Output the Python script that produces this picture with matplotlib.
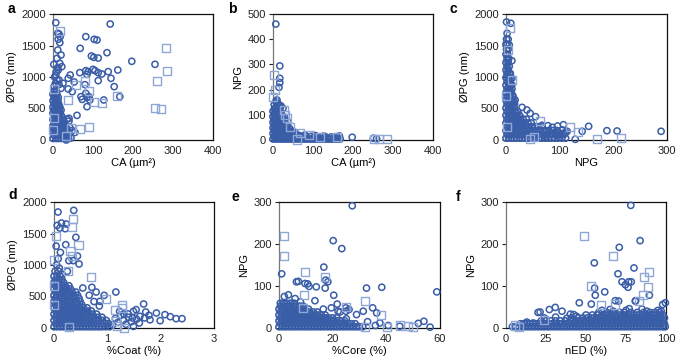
import matplotlib.pyplot as plt
import numpy as np

plt.rcParams['font.family'] = ['Liberation Sans', 'DejaVu Sans']
plt.rcParams['font.size'] = 8

CIRC = '#3a5da8'
SQ = '#8ea7d6'

# panel a: CA (um2) vs diameter PG (nm)
a_circles = [(7, 1862), (143, 1841), (82, 1640), (103, 1598), (110, 1587), (68, 1455), (135, 1386),
             (96, 1333), (102, 1312), (113, 1301), (197, 1249), (255, 1201), (82, 1100), (88, 1085),
             (100, 1121), (105, 1100), (113, 1069), (138, 1085), (162, 1111), (122, 1048), (67, 1069),
             (85, 1042), (113, 942), (145, 979), (43, 1032), (38, 979), (53, 921), (153, 847), (80, 878),
             (82, 741), (70, 688), (73, 645), (85, 677), (90, 688), (92, 635), (85, 529), (127, 635),
             (167, 688), (38, 810), (48, 767), (60, 391), (40, 344), (33, 0),
             (12, 1693), (15, 1683), (18, 1640), (13, 1598), (17, 1545), (12, 1428), (20, 1349),
             (10, 1296), (17, 1217), (22, 1164), (13, 1111), (7, 1032), (15, 952), (25, 900),
             (45, 30), (48, 150), (55, 120), (42, 200), (40, 300), (35, 330), (3, 850), (6, 900),
             (10, 950), (4, 1000), (8, 1080), (12, 1150), (2, 1200), (15, 880), (20, 820)]
a_squares = [(17, 1725), (283, 1466), (285, 1095), (260, 936), (255, 503), (271, 487), (160, 704),
             (123, 582), (103, 598), (90, 783), (79, 942), (57, 873), (90, 212), (67, 169), (45, 185),
             (33, 63), (0, 159), (2, 344), (2, 804), (38, 635)]
# dense core of panel a: one y level per row, x values along that row
a_core_y = [25, 75, 125, 175, 225, 275, 325, 375, 425, 475, 525, 575, 625, 675, 725, 775]
a_core_x = [[0, 7, 13, 20, 27, 33, 39], [3, 10, 17, 23, 30, 37], [0, 6, 13, 19, 26, 32, 38],
            [3, 9, 16, 22, 29, 35], [0, 6, 12, 19, 25, 31], [3, 9, 15, 22, 28], [0, 6, 13, 19, 25],
            [3, 9, 16, 22], [0, 6, 12, 18], [3, 9, 15, 20], [0, 6, 12, 17], [3, 9, 14],
            [0, 6, 12], [3, 8, 13], [0, 5, 10], [3, 8]]

# panel b: CA (um2) vs NPG
b_circles = [(7, 460), (17, 294), (17, 245), (15, 209), (17, 228), (10, 159), (7, 153), (12, 146),
             (18, 135), (25, 126), (198, 11), (160, 13), (166, 16), (251, 7), (259, 5),
             (45, 25), (55, 30), (65, 18), (80, 20), (105, 18), (125, 15), (145, 12), (42, 45),
             (48, 35), (38, 70), (3, 140), (9, 150), (14, 140), (20, 135), (29, 90), (19, 100)]
b_squares = [(2, 258), (0, 172), (27, 119), (35, 86), (43, 53), (68, 26), (89, 20), (118, 13),
             (161, 11), (252, 3), (266, 3), (284, 3), (60, 2), (5, 200), (30, 100)]
b_core_y = [4, 14, 26, 37, 48, 59, 70, 81, 92, 103, 114, 125]
b_core_x = [[0, 6, 12, 18, 24, 30, 36, 42, 48, 54, 60, 66, 72, 78, 84, 90, 96, 102, 108, 114, 120, 126,
             132, 138, 144, 150, 156, 162, 168],
            [3, 9, 15, 21, 27, 33, 39, 45, 51, 57, 63, 69, 75, 82, 95, 110, 130],
            [0, 6, 12, 18, 24, 30, 36, 42, 48],
            [3, 9, 15, 21, 27, 33, 39],
            [0, 6, 12, 18, 24, 30, 36],
            [3, 9, 15, 21, 27, 33],
            [0, 6, 12, 18, 24, 30],
            [3, 9, 15, 21, 27],
            [0, 6, 12, 18, 24],
            [3, 9, 15, 21],
            [0, 6, 12, 18],
            [4, 10, 16]]

# panel c: NPG vs diameter PG (nm)
c_circles = [(1, 1873), (9, 1852), (2, 1693), (4, 1598), (6, 1508), (11, 1259), (67, 233), (78, 227),
             (86, 201), (96, 222), (107, 243), (98, 122), (108, 106), (111, 122), (114, 138), (129, 11),
             (142, 138), (154, 217), (188, 148), (207, 143), (289, 138), (92, 106), (73, 132), (55, 370),
             (45, 423), (39, 476), (30, 518), (17, 635), (11, 873), (8, 1058), (13, 700), (15, 600),
             (11, 980), (20, 420), (26, 380), (64, 40), (76, 60), (85, 90), (95, 70), (105, 160)]
c_squares = [(7, 1772), (4, 1428), (11, 952), (63, 307), (120, 201), (134, 127), (170, 21), (215, 26),
             (45, 21), (53, 53), (0, 700), (2, 200)]
c_core_y = [30, 90, 150, 210, 270, 330, 390, 450, 510, 570, 630, 690, 750, 810, 870, 930, 990, 1050,
            1110, 1170, 1230, 1290, 1360, 1440, 1520, 1600]
c_core_x = [[0, 5, 10, 15, 20, 25, 30, 35, 40, 45, 50, 55, 61, 67, 73, 79, 85, 91, 97, 104, 111],
            [2, 7, 12, 17, 22, 27, 32, 37, 42, 47, 52, 58, 64, 70, 76, 82, 88, 94, 100, 108],
            [0, 5, 10, 15, 20, 25, 30, 35, 40, 45, 50, 56, 62, 68, 74, 80, 87, 95],
            [2, 7, 12, 17, 22, 27, 32, 37, 42, 48, 54, 60, 67],
            [0, 5, 10, 15, 20, 25, 30, 35, 41, 47],
            [2, 7, 12, 17, 22, 27, 32, 38],
            [0, 5, 10, 15, 20, 25],
            [2, 7, 12, 17, 22],
            [0, 5, 10, 15],
            [2, 7, 12, 16],
            [0, 5, 10, 14],
            [2, 7, 12],
            [0, 5, 10],
            [2, 7, 11],
            [0, 5, 9],
            [2, 7],
            [0, 5, 8],
            [2, 6],
            [0, 4],
            [2, 6],
            [0, 4],
            [2, 5],
            [0, 3],
            [1, 4],
            [0, 2],
            [1]]

# panel d: %Coat vs diameter PG (nm)
d_circles = [(0.075, 1841), (0.37, 1867), (0.06, 1629), (0.14, 1666), (0.23, 1650), (0.11, 1587),
             (0.21, 1576), (0.41, 1439), (0.22, 1323), (0.44, 1143), (0.47, 1016), (0.28, 1069),
             (0.36, 1069), (0.09, 899), (1.16, 571), (1.68, 381), (1.92, 238), (2.08, 212), (2.18, 180),
             (2.29, 148), (2.4, 148), (1.99, 116), (1.78, 201), (1.72, 254), (1.54, 291), (1.49, 264),
             (1.39, 222), (1.31, 222), (0.94, 518), (0.79, 571), (0.54, 635), (0.71, 645), (0.86, 423),
             (1.23, 264), (1.47, 159), (1.61, 185), (1.49, 26), (1.1, 50), (1.15, 150), (1.2, 90),
             (1.25, 200), (1.3, 120), (1.35, 60), (1.4, 170), (1.45, 100), (1.55, 140), (1.6, 80),
             (1.7, 160), (1.8, 130), (0.02, 900), (0.05, 1000), (0.08, 1100), (0.1, 950), (0.12, 1200),
             (0.04, 1300), (0.15, 850), (0.25, 900), (0.66, 520), (0.75, 420), (0.85, 350)]
d_squares = [(0.35, 1735), (0.33, 1598), (0.03, 1455), (0.46, 1312), (0.31, 1227), (0.34, 1143),
             (0, 1084), (0.27, 899), (0.69, 804), (0.97, 466), (1.27, 370), (1.28, 317), (1.14, 291),
             (1.18, 26), (1.31, 0), (0.28, 10), (0, 370), (0, 661), (1.17, 106)]
d_core_y = [20, 70, 120, 170, 220, 270, 320, 370, 420, 470, 520, 570, 620, 670, 720, 770, 820]
d_core_x = [[0, 0.06, 0.12, 0.18, 0.24, 0.3, 0.36, 0.42, 0.48, 0.54, 0.6, 0.66, 0.72, 0.78, 0.84, 0.9, 0.97, 1.04],
            [0.03, 0.09, 0.15, 0.21, 0.27, 0.33, 0.39, 0.45, 0.51, 0.57, 0.63, 0.69, 0.75, 0.81, 0.88, 0.95, 1.02],
            [0, 0.06, 0.12, 0.18, 0.24, 0.3, 0.36, 0.42, 0.48, 0.54, 0.6, 0.66, 0.72, 0.78, 0.84, 0.91, 0.98],
            [0.03, 0.09, 0.15, 0.21, 0.27, 0.33, 0.39, 0.45, 0.51, 0.57, 0.63, 0.69, 0.75, 0.82, 0.9],
            [0, 0.06, 0.12, 0.18, 0.24, 0.3, 0.36, 0.42, 0.48, 0.54, 0.6, 0.66, 0.72, 0.8],
            [0.03, 0.09, 0.15, 0.21, 0.27, 0.33, 0.39, 0.45, 0.51, 0.57, 0.63, 0.7],
            [0, 0.06, 0.12, 0.18, 0.24, 0.3, 0.36, 0.42, 0.48, 0.55, 0.62],
            [0.03, 0.09, 0.15, 0.21, 0.27, 0.33, 0.39, 0.45, 0.52],
            [0, 0.06, 0.12, 0.18, 0.24, 0.3, 0.36, 0.42, 0.49],
            [0.03, 0.09, 0.15, 0.21, 0.27, 0.33, 0.4, 0.47],
            [0, 0.06, 0.12, 0.18, 0.24, 0.3, 0.37, 0.44],
            [0.03, 0.09, 0.15, 0.21, 0.27, 0.34, 0.41],
            [0, 0.06, 0.12, 0.18, 0.24, 0.31],
            [0.03, 0.09, 0.15, 0.21, 0.28],
            [0, 0.06, 0.12, 0.18],
            [0.03, 0.09, 0.15],
            [0, 0.06, 0.12]]

# panel e: %Core vs NPG
e_circles = [(1.0, 129), (3.5, 79), (6.5, 110), (7.2, 111), (9.7, 106), (10.7, 105), (11.2, 99),
             (13.9, 98), (13.4, 65), (16.7, 145), (17.4, 114), (18.2, 110), (17.2, 95), (20.2, 208),
             (23.4, 189), (27.3, 291), (20.4, 78), (21.7, 57), (32.6, 95), (38.3, 97), (58.8, 86),
             (54, 16), (51.9, 11), (56.3, 2), (45, 4), (40.7, 6), (37.6, 12), (34.9, 48), (36.4, 36),
             (31.4, 40), (28.9, 32), (25.1, 22), (24.9, 48), (26.1, 44), (22.7, 38), (24.4, 12),
             (35.9, 6), (2, 75), (6, 70), (8, 62), (16.5, 45), (19.5, 48), (22, 40), (25, 40), (33, 15)]
e_squares = [(2.0, 218), (1.7, 171), (9.8, 133), (17.2, 122), (32.1, 64), (38.1, 32), (9.2, 79),
             (24.9, 49), (32.1, 2), (40.1, 2), (45, 6), (48.2, 5), (50, 2), (9, 48)]
e_core_y = [3, 10, 17, 24, 31, 38, 45, 52, 59]
e_core_x = [[0, 1.2, 2.4, 3.6, 4.8, 6, 7.2, 8.4, 9.6, 10.8, 12, 13.2, 14.4, 15.6, 16.8, 18, 19.2, 20.4,
             21.6, 22.8, 24, 25.2, 26.4, 27.6, 28.8, 30, 31.2],
            [0.6, 1.8, 3, 4.2, 5.4, 6.6, 7.8, 9, 10.2, 11.4, 12.6, 13.8, 15, 16.2, 17.4, 18.6, 19.8, 21,
             22.2, 23.4, 24.6, 25.8, 27, 28.4],
            [0, 1.2, 2.4, 3.6, 4.8, 6, 7.2, 8.4, 9.6, 10.8, 12, 13.2, 14.4, 15.6, 16.8, 18, 19.2, 20.4,
             21.6, 23, 24.5],
            [0.6, 1.8, 3, 4.2, 5.4, 6.6, 7.8, 9, 10.2, 11.4, 12.6, 13.8, 15, 16.2, 17.4, 18.6, 20, 21.5],
            [0, 1.2, 2.4, 3.6, 4.8, 6, 7.2, 8.4, 9.6, 10.8, 12, 13.2, 14.4, 15.8, 17.2],
            [0.6, 1.8, 3, 4.2, 5.4, 6.6, 7.8, 9, 10.2, 11.4, 12.8, 14.2],
            [0, 1.2, 2.4, 3.6, 4.8, 6, 7.2, 8.4, 9.6, 11],
            [0.6, 1.8, 3, 4.2, 5.4, 6.6, 7.8, 9],
            [0.5, 1.7, 2.9, 4.3, 5.6]]

# panel f: nED vs NPG
f_circles = [(78, 292), (83.8, 208), (70.8, 192), (55.2, 155), (70, 129), (80, 143), (72.5, 110),
             (76.7, 110), (78.3, 110), (74.6, 103), (76.3, 97), (55.4, 95), (61.7, 86), (55.8, 78),
             (89.6, 78), (45.8, 60), (53.3, 57), (30.8, 49), (27.1, 44), (20, 37), (21.3, 38),
             (80.8, 64), (81, 65), (99.6, 60), (97.9, 56), (68.3, 65), (70.4, 64), (35, 40), (40.2, 33),
             (42.3, 32), (24, 24), (31, 26), (38, 23), (44, 28), (65, 44), (77, 46), (85, 45), (60, 42),
             (75, 42), (95, 42), (67, 40), (97, 40), (88, 40), (4, 3), (13, 14), (17, 12)]
f_squares = [(49, 218), (66.7, 171), (53.1, 99), (86, 121), (89.6, 133), (88.5, 98), (85.4, 79),
             (59.2, 54), (67.9, 56), (23.8, 19), (5.4, 6), (7.9, 2), (83, 65)]
f_core_y = [3, 10, 17, 24, 31, 37]
f_core_x = [[6, 8, 10, 12, 14, 16, 18, 20, 22, 24, 26, 28, 30, 32, 34, 36, 38, 40, 42, 44, 46, 48, 50,
             52, 54, 56, 58, 60, 62, 64, 66, 68, 70, 72, 74, 76, 78, 80, 82, 84, 86, 88, 90, 92, 94,
             96, 98, 99.5],
            [9, 11, 13, 15, 17, 19, 21, 23, 25, 27, 29, 31, 33, 35, 37, 39, 41, 43, 45, 47, 49, 51, 53,
             55, 57, 59, 61, 63, 65, 67, 69, 71, 73, 75, 77, 79, 81, 83, 85, 87, 89, 91, 93, 95, 97, 99],
            [22, 25, 28, 31, 34, 37, 40, 42, 44, 46, 48, 50, 52, 54, 56, 58, 60, 62, 64, 66, 68, 70, 72,
             74, 76, 78, 80, 82, 84, 86, 88, 90, 92, 94, 96, 98],
            [41, 45, 48, 51, 53, 55, 57, 59, 61, 63, 65, 67, 69, 71, 73, 75, 77, 79, 81, 83, 85, 87, 89,
             91, 93, 95, 97, 99],
            [50, 54, 57, 60, 62, 64, 66, 68, 70, 72, 74, 76, 78, 80, 82, 84, 86, 88, 90, 92, 94, 96, 98],
            [58, 63, 67, 71, 74, 78, 82, 86, 90, 93, 96]]

panels = [
    ('a', a_circles, a_core_x, a_core_y, a_squares, 'CA (\u00b5m\u00b2)', '\u00d8PG (nm)', 400, [0, 100, 200, 300, 400], 2000, [0, 500, 1000, 1500, 2000]),
    ('b', b_circles, b_core_x, b_core_y, b_squares, 'CA (\u00b5m\u00b2)', 'NPG', 400, [0, 100, 200, 300, 400], 500, [0, 100, 200, 300, 400, 500]),
    ('c', c_circles, c_core_x, c_core_y, c_squares, 'NPG', '\u00d8PG (nm)', 300, [0, 100, 200, 300], 2000, [0, 500, 1000, 1500, 2000]),
    ('d', d_circles, d_core_x, d_core_y, d_squares, '%Coat (%)', '\u00d8PG (nm)', 3, [0, 1, 2, 3], 2000, [0, 500, 1000, 1500, 2000]),
    ('e', e_circles, e_core_x, e_core_y, e_squares, '%Core (%)', 'NPG', 60, [0, 20, 40, 60], 300, [0, 100, 200, 300]),
    ('f', f_circles, f_core_x, f_core_y, f_squares, 'nED (%)', 'NPG', 100, [0, 25, 50, 75, 100], 300, [0, 100, 200, 300]),
]

# axes boxes in pixels: left, right, top, bottom
boxes = [(53, 213, 14, 140), (273, 433, 14, 140), (506, 667, 14, 140),
         (54, 214, 202, 328), (279, 440, 202, 328), (506, 666, 202, 328)]
letter_pos = [(8, 2), (228, 2), (450, 2), (8, 188), (232, 190), (456, 190)]

W, H = 676, 364
fig = plt.figure(figsize=(W / 100, H / 100), dpi=100)

for (lab, circ, core_x, core_y, sq, xl, yl, xmax, xt, ymax, yt), (l, r, t, b), (lx, ly) in zip(panels, boxes, letter_pos):
    ax = fig.add_axes([l / W, 1 - b / H, (r - l) / W, (b - t) / H])
    circ = np.array(circ)
    sq = np.array(sq)
    cx = [x for row in core_x for x in row]
    cy = [y for row, y in zip(core_x, core_y) for _ in row]
    ax.scatter(cx, cy, s=20, facecolors='none', edgecolors=CIRC, linewidths=1.15, clip_on=False, zorder=3)
    ax.scatter(circ[:, 0], circ[:, 1], s=20, facecolors='none', edgecolors=CIRC, linewidths=1.1, clip_on=False, zorder=3)
    ax.scatter(sq[:, 0], sq[:, 1], s=34, marker='s', facecolors='none', edgecolors=SQ, linewidths=1.0, clip_on=False, zorder=4)
    ax.set_xlim(0, xmax)
    ax.set_ylim(0, ymax)
    ax.set_xticks(xt)
    ax.set_yticks(yt)
    ax.tick_params(axis='x', length=0, pad=4, labelsize=8, colors='#222222')
    ax.tick_params(axis='y', length=3, width=0.8, pad=2, labelsize=8, colors='#222222', direction='out')
    for s in ax.spines.values():
        s.set_linewidth(0.9)
        s.set_color('#111111')
    ax.spines['left'].set_color('#777777')
    ax.set_xlabel(xl, fontsize=8, labelpad=2)
    ax.set_ylabel(yl, fontsize=8, labelpad=3)
    fig.text(lx / W, 1 - ly / H, lab, fontsize=10, fontweight='bold', va='top', ha='left')

fig.savefig('out.png', dpi=100)
